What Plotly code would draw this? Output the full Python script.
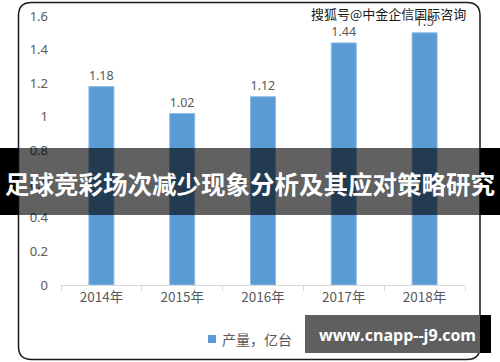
import plotly.graph_objects as go

categories = ["2014年", "2015年", "2016年", "2017年", "2018年"]
values = [1.18, 1.02, 1.12, 1.44, 1.5]
value_labels = ["1.18", "1.02", "1.12", "1.44", "1.5"]
series_name = "产量，亿台"
title_text = "足球竞彩场次减少现象分析及其应对策略研究"
top_mark = "搜狐号@中金企信国际咨询"
bottom_mark = "www.cnapp--j9.com"

W, H = 500, 362
L, R, T, B = 61, 465, 16, 285  # plot area in pixels


def px(x):
    return (x - L) / (R - L)


def py(y):
    return (B - y) / (B - T)


FONT = "Noto Sans, Open Sans, sans-serif"
CJK = "Noto Sans CJK SC"
BAR = "#5b9bd5"

fig = go.Figure()
fig.add_trace(go.Bar(
    x=categories, y=values, name=series_name,
    marker=dict(color=BAR, line=dict(color="#8fbde6", width=1)),
    text=value_labels, textposition="outside", cliponaxis=False,
    textfont=dict(color="#595959", size=13.5, family=FONT),
    width=0.31, showlegend=False, hoverinfo="skip",
))


def rounded_rect(x0, y0, x1, y1, r):
    pts = [
        ("M", x0 + r, y0), ("L", x1 - r, y0), ("Q", x1, y0, x1, y0 + r),
        ("L", x1, y1 - r), ("Q", x1, y1, x1 - r, y1),
        ("L", x0 + r, y1), ("Q", x0, y1, x0, y1 - r),
        ("L", x0, y0 + r), ("Q", x0, y0, x0 + r, y0),
    ]
    s = ""
    for p in pts:
        cmd = p[0]
        coords = p[1:]
        parts = []
        for i in range(0, len(coords), 2):
            parts.append(f"{px(coords[i]):.5f},{py(coords[i+1]):.5f}")
        s += cmd + " ".join(parts) + " "
    return s + "Z"


shapes = [
    dict(type="path", xref="paper", yref="paper",
         path=rounded_rect(18.5, 2.5, 480, 359.5, 13),
         line=dict(color="#1a1a1a", width=1.5), layer="below"),
    # legend swatch
    dict(type="rect", xref="paper", yref="paper", x0=px(208), x1=px(216), y0=py(335), y1=py(343),
         fillcolor=BAR, line=dict(width=0), layer="above"),
    # title band
    dict(type="rect", xref="paper", yref="paper", x0=px(18), x1=px(480), y0=py(148), y1=py(215),
         fillcolor="rgba(0,0,0,0.62)", line=dict(width=0), layer="above"),
    dict(type="rect", xref="paper", yref="paper", x0=px(0), x1=px(18), y0=py(148), y1=py(215),
         fillcolor="#000000", line=dict(width=0), layer="above"),
    dict(type="rect", xref="paper", yref="paper", x0=px(480), x1=px(500), y0=py(148), y1=py(215),
         fillcolor="#000000", line=dict(width=0), layer="above"),
    # bottom box
    dict(type="rect", xref="paper", yref="paper", x0=px(305), x1=px(480), y0=py(315), y1=py(353),
         fillcolor="#5f5f5f", line=dict(width=0), layer="above"),
    dict(type="rect", xref="paper", yref="paper", x0=px(480), x1=px(491), y0=py(315), y1=py(353),
         fillcolor="#000000", line=dict(width=0), layer="above"),
]

annotations = [
    dict(text=series_name, xref="paper", yref="paper", x=px(220), y=py(339),
         xanchor="left", yanchor="middle", showarrow=False,
         font=dict(color="#595959", size=14, family=CJK)),
    dict(text=f"<b>{title_text}</b>", xref="paper", yref="paper", x=px(250), y=py(183),
         xanchor="center", yanchor="middle", showarrow=False,
         font=dict(color="white", size=24.5, family=CJK)),
    dict(text=f"<b>{bottom_mark}</b>", xref="paper", yref="paper", x=px(397), y=py(335),
         xanchor="center", yanchor="middle", showarrow=False,
         font=dict(color="white", size=16, family="Open Sans, sans-serif")),
    dict(text=top_mark, xref="paper", yref="paper", x=px(388), y=py(14),
         xanchor="center", yanchor="middle", showarrow=False,
         font=dict(color="#1a1a1a", size=13, family=CJK)),
]

fig.update_layout(
    width=W, height=H,
    margin=dict(l=L, r=W - R, t=T, b=H - B, autoexpand=False),
    paper_bgcolor="white", plot_bgcolor="white",
    bargap=0.69,
    showlegend=False,
    hovermode=False,
    shapes=shapes, annotations=annotations,
    xaxis=dict(showline=True, linecolor="#d9d9d9", linewidth=1, ticks="outside",
               tickson="boundaries", ticklen=5, tickcolor="#d9d9d9",
               tickfont=dict(color="#595959", size=13.5, family=CJK), showgrid=False,
               automargin=False),
    yaxis=dict(range=[0, 1.6], dtick=0.2, showgrid=False, zeroline=False, showline=False,
               tickfont=dict(color="#595959", size=13, family=FONT), ticklabelstandoff=12,
               automargin=False),
)

fig.write_html("out.html", config={"displayModeBar": False},
               post_script="document.body.style.margin='0';")
